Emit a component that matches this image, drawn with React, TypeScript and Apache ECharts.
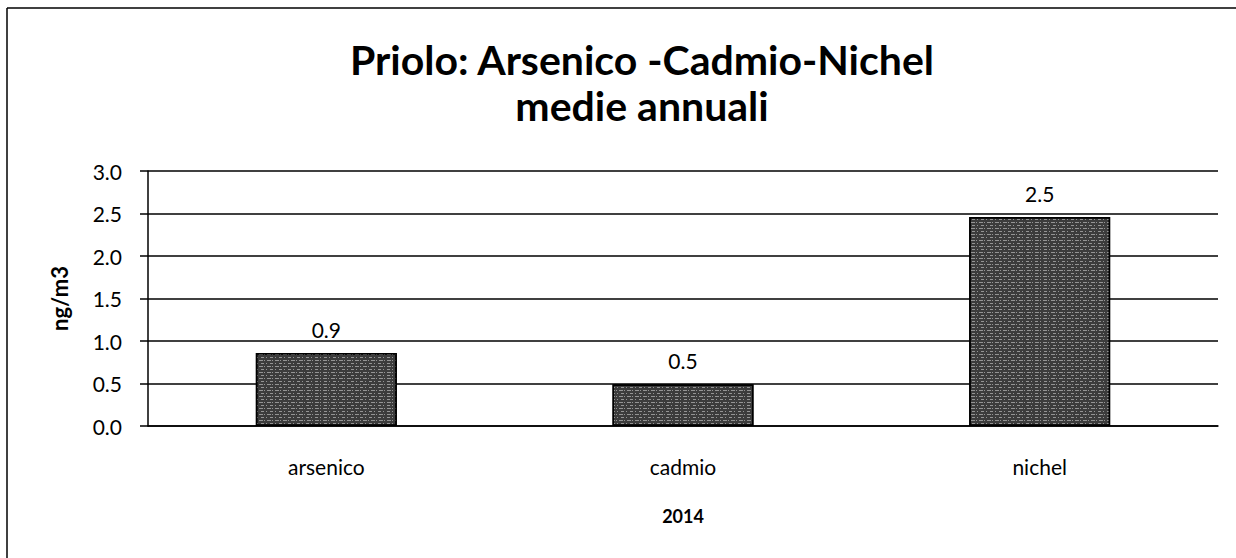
import React, { useEffect, useRef } from "react";
import * as echarts from "echarts";

const categories = ["arsenico", "cadmio", "nichel"];
const values = [0.86, 0.49, 2.46];
const yTicks = [0, 0.5, 1.0, 1.5, 2.0, 2.5, 3.0];
const titleLines = ["Priolo: Arsenico -Cadmio-Nichel", "medie annuali"];
const xName = "2014";
const yName = "ng/m3";

const FONT = "Lato, 'Open Sans', sans-serif";

export default function App() {
  const ref = useRef<HTMLDivElement>(null);
  useEffect(() => {
    document.body.style.margin = "0";
    document.body.style.overflow = "hidden";
    const chart = echarts.init(ref.current!, null, { renderer: "svg" });
    chart.setOption({
      animation: false,
      backgroundColor: "#ffffff",
      textStyle: { fontFamily: FONT, color: "#000" },
      aria: { enabled: false, decal: { show: false } },
      title: {
        text: titleLines.join("\n"),
        left: 637,
        textAlign: "center",
        top: 31,
        textStyle: {
          fontFamily: FONT,
          fontSize: 41,
          fontWeight: "bold",
          color: "#000",
          lineHeight: 46,
        },
      },
      graphic: [
        {
          type: "line",
          shape: { x1: 7, y1: 8, x2: 1236, y2: 8 },
          style: { stroke: "#000", lineWidth: 1.5 },
          silent: true,
        },
        {
          type: "line",
          shape: { x1: 7, y1: 8, x2: 7, y2: 558 },
          style: { stroke: "#000", lineWidth: 1.5 },
          silent: true,
        },
      ],
      grid: { left: 148, right: 18, top: 171, bottom: 132 },
      xAxis: {
        type: "category",
        data: categories,
        name: xName,
        nameLocation: "middle",
        nameGap: 81,
        nameTextStyle: { fontFamily: FONT, fontSize: 18, fontWeight: "bold", color: "#000" },
        axisLine: { show: true, lineStyle: { color: "#000", width: 1.5 } },
        axisTick: { show: false },
        axisLabel: { fontFamily: FONT, fontSize: 21, color: "#000", margin: 30 },
      },
      yAxis: {
        type: "value",
        min: 0,
        max: 3,
        interval: 0.5,
        name: yName,
        nameLocation: "middle",
        nameGap: 78,
        nameRotate: 90,
        nameTextStyle: { fontFamily: FONT, fontSize: 22, fontWeight: "bold", color: "#000" },
        axisLine: { show: true, lineStyle: { color: "#000", width: 1.5 } },
        axisTick: { show: true, inside: false, length: 8, lineStyle: { color: "#000", width: 1.5 } },
        axisLabel: {
          fontFamily: FONT,
          fontSize: 21,
          color: "#000",
          margin: 26,
          formatter: (v: number) => (yTicks.includes(v) ? v.toFixed(1) : ""),
        },
        splitLine: { show: true, lineStyle: { color: "#000", width: 1.5 } },
      },
      series: [
        {
          type: "bar",
          data: values,
          barWidth: 141,
          itemStyle: {
            color: "#3c3c3c",
            borderColor: "#000",
            borderWidth: 1.5,
            decal: {
              symbol: "rect",
              symbolSize: 1,
              color: "rgba(255,255,255,0.45)",
              dashArrayX: [[3, 2, 1, 3], [1, 2, 4, 1]],
              dashArrayY: [1, 2],
              rotation: 0,
            },
          },
          label: {
            show: true,
            position: "top",
            distance: 13,
            fontFamily: FONT,
            fontSize: 21,
            color: "#000",
            formatter: (p: any) => Number(p.value).toFixed(1),
          },
        },
      ],
    });
    return () => chart.dispose();
  }, []);
  return <div ref={ref} style={{ width: 1236, height: 558 }} />;
}
